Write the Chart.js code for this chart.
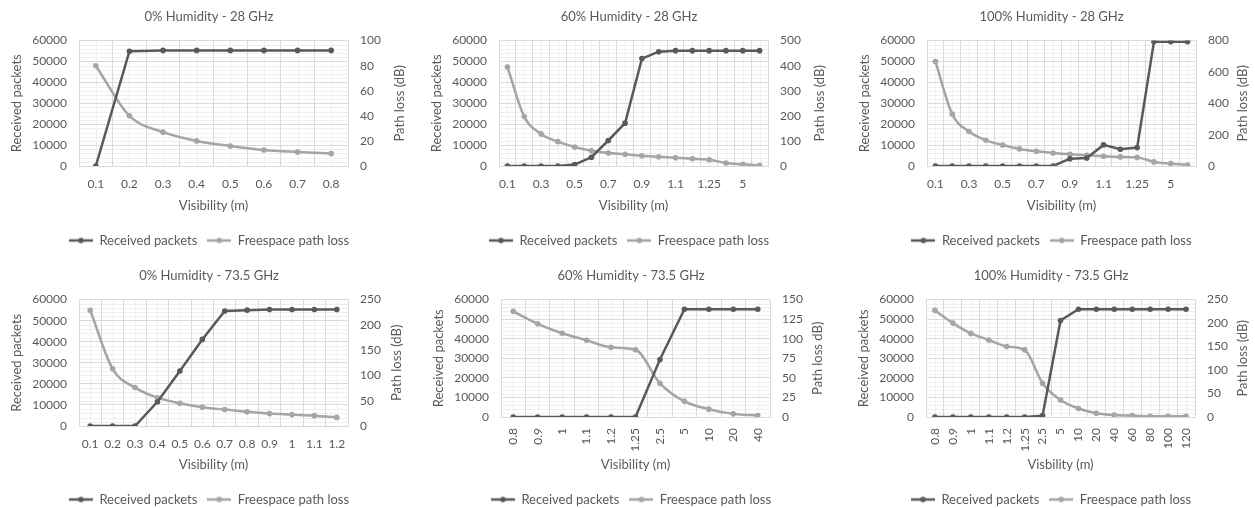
<!DOCTYPE html>
<html>
<head>
<meta charset="utf-8">
<script src="https://cdn.jsdelivr.net/npm/chart.js@4.4.1/dist/chart.umd.min.js"></script>
<style>
  html, body { margin: 0; padding: 0; background: #fff; }
  body { width: 1255px; height: 508px; position: relative; overflow: hidden; }
  .panel { position: absolute; }
</style>
</head>
<body>
<div class="panel" id="w1"><canvas id="c1"></canvas></div>
<div class="panel" id="w2"><canvas id="c2"></canvas></div>
<div class="panel" id="w3"><canvas id="c3"></canvas></div>
<div class="panel" id="w4"><canvas id="c4"></canvas></div>
<div class="panel" id="w5"><canvas id="c5"></canvas></div>
<div class="panel" id="w6"><canvas id="c6"></canvas></div>
<script>
// ---- data ----
const vis28a = ['0.1', '0.2', '0.3', '0.4', '0.5', '0.6', '0.7', '0.8'];
const rx0_28 = [0, 54900, 55300, 55300, 55300, 55300, 55300, 55300];
const pl0_28 = [80, 40, 27, 20, 16, 12.8, 11.2, 9.9];

const vis28b = ['0.1', '0.2', '0.3', '0.4', '0.5', '0.6', '0.7', '0.8', '0.9', '1', '1.1', '1.2', '1.25', '2.5', '5', '10'];
const rx60_28 = [0, 0, 0, 0, 700, 4200, 12200, 20500, 51400, 54700, 55200, 55200, 55200, 55200, 55200, 55200];
const pl60_28 = [395, 197, 128, 97, 76, 61, 52, 47, 41, 37, 33, 29, 25, 12, 7, 2];

const rx100_28 = [0, 0, 0, 0, 0, 0, 0, 0, 3500, 3800, 10100, 8000, 8800, 59500, 59500, 59500];
const pl100_28 = [667, 331, 220, 164, 134, 109, 94, 83, 75, 68, 62, 58, 55, 26, 15, 6];

const vis73a = ['0.1', '0.2', '0.3', '0.4', '0.5', '0.6', '0.7', '0.8', '0.9', '1', '1.1', '1.2'];
const rx0_73 = [0, 0, 0, 11500, 26100, 41100, 54600, 55000, 55300, 55300, 55300, 55300];
const pl0_73 = [229, 113, 76, 56, 45, 37, 32.5, 28, 24.5, 22.5, 20.5, 17];

const vis73b = ['0.8', '0.9', '1', '1.1', '1.2', '1.25', '2.5', '5', '10', '20', '40'];
const rx60_73 = [0, 0, 0, 0, 0, 0, 29400, 55100, 55100, 55100, 55100];
const pl60_73 = [135, 119, 107, 98, 89, 86, 43, 20, 10, 4, 2];

const vis73c = ['0.8', '0.9', '1', '1.1', '1.2', '1.25', '2.5', '5', '10', '20', '40', '60', '80', '100', '120'];
const rx100_73 = [0, 0, 0, 0, 0, 0, 700, 49300, 55100, 55100, 55100, 55100, 55100, 55100, 55100];
const pl100_73 = [227, 200, 178, 164, 150, 143, 72, 36, 18, 8, 4, 3, 1.5, 1.5, 1.5];

const titles = ['0% Humidity - 28 GHz', '60% Humidity - 28 GHz', '100% Humidity - 28 GHz',
                '0% Humidity - 73.5 GHz', '60% Humidity - 73.5 GHz', '100% Humidity - 73.5 GHz'];

const DARK = '#595959';
const LIGHT = '#a5a5a5';
const TEXT = '#595959';
const FONT = 'Lato, "Open Sans", sans-serif';

// legend marker: short line with a dot in the middle
function legendMark(color) {
    const c = document.createElement('canvas');
    c.width = 24; c.height = 8;
    const g = c.getContext('2d');
    g.strokeStyle = color; g.lineWidth = 2.5;
    g.beginPath(); g.moveTo(0, 4); g.lineTo(24, 4); g.stroke();
    g.fillStyle = color;
    g.beginPath(); g.arc(12, 4, 2.8, 0, Math.PI * 2); g.fill();
    return c;
}
const marks = [legendMark(DARK), legendMark(LIGHT)];

// light minor grid (Excel style), drawn under the major grid
const minorGrid = {
    id: 'minorGrid',
    beforeDraw(chart) {
        const {ctx, chartArea: a, scales} = chart;
        const y = scales.y, x = scales.x;
        ctx.save();
        ctx.strokeStyle = '#efefef';
        ctx.lineWidth = 1;
        ctx.beginPath();
        for (let v = 0; v <= 60000; v += 2000) {
            if (v % 10000 === 0) continue;
            const py = Math.round(y.getPixelForValue(v)) + 0.5;
            ctx.moveTo(a.left, py); ctx.lineTo(a.right, py);
        }
        for (let i = 0; i < x.ticks.length; i++) {
            const px = Math.round(x.getPixelForValue(i)) + 0.5;
            ctx.moveTo(px, a.top); ctx.lineTo(px, a.bottom);
        }
        ctx.stroke();
        ctx.restore();
    }
};

// right axis title reads bottom-to-top, as in Excel
const rightTitle = {
    id: 'rightTitle',
    afterDraw(chart, args, o) {
        const {ctx, chartArea: a} = chart;
        ctx.save();
        ctx.fillStyle = TEXT;
        ctx.font = '13px ' + FONT;
        ctx.textAlign = 'center';
        ctx.textBaseline = 'middle';
        ctx.translate(o.x, (a.top + a.bottom) / 2);
        ctx.rotate(-Math.PI / 2);
        ctx.fillText(o.text, 0, 0);
        ctx.restore();
    }
};

function makeChart(n, opt) {
    const wrap = document.getElementById('w' + n);
    wrap.style.left = opt.left + 'px';
    wrap.style.top = opt.top + 'px';
    const canvas = document.getElementById('c' + n);
    canvas.width = opt.width; canvas.height = opt.height;
    canvas.style.width = opt.width + 'px'; canvas.style.height = opt.height + 'px';

    return new Chart(canvas.getContext('2d'), {
        type: 'line',
        data: {
            labels: opt.labels,
            datasets: [{
                label: 'Received packets',
                data: opt.rx,
                yAxisID: 'y',
                borderColor: DARK,
                backgroundColor: DARK,
                borderWidth: 2.5,
                pointRadius: 2.8,
                pointBorderWidth: 0,
                tension: 0
            }, {
                label: 'Freespace path loss',
                data: opt.pl,
                yAxisID: 'y1',
                borderColor: LIGHT,
                backgroundColor: LIGHT,
                borderWidth: 2.5,
                pointRadius: 2.8,
                pointBorderWidth: 0,
                cubicInterpolationMode: 'monotone'
            }]
        },
        plugins: [minorGrid, rightTitle],
        options: {
            responsive: false,
            animation: false,
            layout: { padding: 0 },
            plugins: {
                title: {
                    display: true,
                    text: opt.title,
                    color: TEXT,
                    font: { family: FONT, size: 13, weight: 'normal' },
                    padding: { top: 9, bottom: 16 }
                },
                legend: {
                    position: 'bottom',
                    labels: {
                        usePointStyle: true,
                        pointStyleWidth: 24,
                        color: TEXT,
                        font: { family: FONT, size: 13 },
                        padding: 10,
                        generateLabels(chart) {
                            return chart.data.datasets.map((ds, i) => ({
                                text: ds.label,
                                fontColor: TEXT,
                                pointStyle: marks[i],
                                lineWidth: 0,
                                strokeStyle: 'transparent',
                                fillStyle: 'transparent',
                                hidden: false,
                                datasetIndex: i
                            }));
                        }
                    }
                },
                rightTitle: { text: opt.yTitle, x: opt.rtX },
                tooltip: { enabled: false }
            },
            scales: {
                x: {
                    offset: true,
                    grid: { color: '#d9d9d9', drawTicks: false, offset: true },
                    border: { color: '#d9d9d9' },
                    ticks: {
                        color: TEXT,
                        font: { family: FONT, size: 12 },
                        padding: 11,
                        autoSkip: false,
                        minRotation: opt.rot,
                        maxRotation: opt.rot,
                        callback: function (v, i) {
                            return (opt.every && i % opt.every) ? '' : this.getLabelForValue(v);
                        }
                    },
                    title: {
                        display: true,
                        text: opt.xTitle,
                        color: TEXT,
                        font: { family: FONT, size: 13 },
                        padding: { top: 0, bottom: 10 }
                    },
                    afterFit(s) { s.height = opt.xh; }
                },
                y: {
                    position: 'left',
                    min: 0, max: 60000,
                    grid: { color: '#d9d9d9', drawTicks: false },
                    border: { display: false },
                    ticks: {
                        stepSize: 10000,
                        color: TEXT,
                        font: { family: FONT, size: 12 },
                        padding: 12,
                        callback: (v) => String(v)
                    },
                    title: {
                        display: true,
                        text: 'Received packets',
                        color: TEXT,
                        font: { family: FONT, size: 13 },
                        padding: { top: 9, bottom: 0 }
                    },
                    afterFit(s) { s.width = 79; }
                },
                y1: {
                    position: 'right',
                    min: 0, max: opt.plMax,
                    grid: { drawOnChartArea: false, drawTicks: false },
                    border: { display: false },
                    ticks: {
                        stepSize: opt.plStep,
                        color: TEXT,
                        font: { family: FONT, size: 12 },
                        padding: 12,
                        callback: (v) => String(v)
                    },
                    afterFit(s) { s.width = opt.width - 79 - 269; }
                }
            }
        }
    });
}

makeChart(1, { left: 0, top: 0, width: 418, height: 257, labels: vis28a, rx: rx0_28, pl: pl0_28,
    title: titles[0], plMax: 100, plStep: 20, xTitle: 'Visibility (m)', yTitle: 'Path loss (dB)', rot: 0, every: 0, xh: 58, rtX: 400 });
makeChart(2, { left: 420, top: 0, width: 418, height: 257, labels: vis28b, rx: rx60_28, pl: pl60_28,
    title: titles[1], plMax: 500, plStep: 100, xTitle: 'Visibility (m)', yTitle: 'Path loss (dB)', rot: 0, every: 2, xh: 58, rtX: 400 });
makeChart(3, { left: 848, top: 0, width: 407, height: 257, labels: vis28b, rx: rx100_28, pl: pl100_28,
    title: titles[2], plMax: 800, plStep: 200, xTitle: 'Visibility (m)', yTitle: 'Path loss (dB)', rot: 0, every: 2, xh: 58, rtX: 395 });
makeChart(4, { left: 0, top: 259, width: 418, height: 257, labels: vis73a, rx: rx0_73, pl: pl0_73,
    title: titles[3], plMax: 250, plStep: 50, xTitle: 'Visibility (m)', yTitle: 'Path loss (dB)', rot: 0, every: 0, xh: 57, rtX: 397 });
makeChart(5, { left: 422, top: 259, width: 418, height: 257, labels: vis73b, rx: rx60_73, pl: pl60_73,
    title: titles[4], plMax: 150, plStep: 25, xTitle: 'Visibility (m)', yTitle: 'Path loss dB)', rot: 90, every: 0, xh: 66, rtX: 396 });
makeChart(6, { left: 847, top: 259, width: 408, height: 257, labels: vis73c, rx: rx100_73, pl: pl100_73,
    title: titles[5], plMax: 250, plStep: 50, xTitle: 'Visbility (m)', yTitle: 'Path loss (dB)', rot: 90, every: 0, xh: 66, rtX: 396 });
</script>
</body>
</html>
